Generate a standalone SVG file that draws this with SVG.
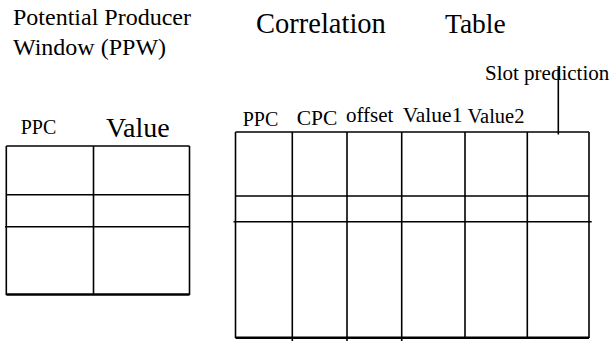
<svg xmlns="http://www.w3.org/2000/svg" width="613" height="341" viewBox="0 0 613 341">
<style>
.ln{stroke:#000;stroke-width:1.6;fill:none}
.bd{stroke:#000;stroke-width:2.4;fill:none}
</style>
<rect width="613" height="341" fill="#fff"/>
<g font-family="Liberation Serif, Times New Roman, DejaVu Serif, serif" fill="#000">
<g id="ppw-title">
<text x="13" y="25" font-size="24">Potential Producer</text>
<text x="13" y="55" font-size="24">Window (PPW)</text>
</g>
<g id="ppw-table">
<text x="20.7" y="134" font-size="20">PPC</text>
<text x="106" y="136.5" font-size="28">Value</text>
<line class="ln" x1="6.3" y1="146" x2="189.5" y2="146"/>
<line class="ln" x1="6.3" y1="146" x2="6.3" y2="295"/>
<line class="ln" x1="189.5" y1="146" x2="189.5" y2="295"/>
<line class="ln" x1="93.5" y1="146" x2="93.5" y2="295"/>
<line class="ln" x1="6.3" y1="194.7" x2="189.5" y2="194.7"/>
<line class="ln" x1="5" y1="226.7" x2="189.5" y2="226.7"/>
<line class="bd" x1="6.3" y1="294.5" x2="189.5" y2="294.5"/>
</g>
<g id="ct-title">
<text x="256" y="33" font-size="28.5">Correlation</text>
<text x="445" y="33" font-size="27.5">Table</text>
</g>
<g id="slot-label">
<text x="485" y="80" font-size="21">Slot prediction</text>
</g>
<g id="ct-table">
<text x="242.7" y="126" font-size="20">PPC</text>
<text x="296.7" y="125" font-size="21.5">CPC</text>
<text x="346" y="121.7" font-size="21">offset</text>
<text x="402.7" y="122" font-size="21.5">Value1</text>
<text x="467.5" y="123" font-size="20.5">Value2</text>
<line class="ln" x1="235.5" y1="132" x2="589" y2="132"/>
<line class="ln" x1="235.5" y1="132" x2="235.5" y2="338"/>
<line class="ln" x1="589" y1="132" x2="589" y2="338"/>
<line class="ln" x1="292.3" y1="132" x2="292.3" y2="341"/>
<line class="ln" x1="347" y1="132" x2="347" y2="341"/>
<line class="ln" x1="401.7" y1="132" x2="401.7" y2="341"/>
<line class="ln" x1="465" y1="132" x2="465" y2="338"/>
<line class="ln" x1="527.3" y1="132" x2="527.3" y2="338"/>
<line class="ln" x1="235.5" y1="196" x2="589" y2="196"/>
<line class="ln" x1="233.5" y1="221.7" x2="591.7" y2="221.7"/>
<line class="bd" x1="235.5" y1="337.7" x2="589" y2="337.7"/>
</g>
</g>
<g id="connectors">
<line class="ln" x1="558.3" y1="67.5" x2="558.3" y2="134.5"/>
</g>
</svg>
